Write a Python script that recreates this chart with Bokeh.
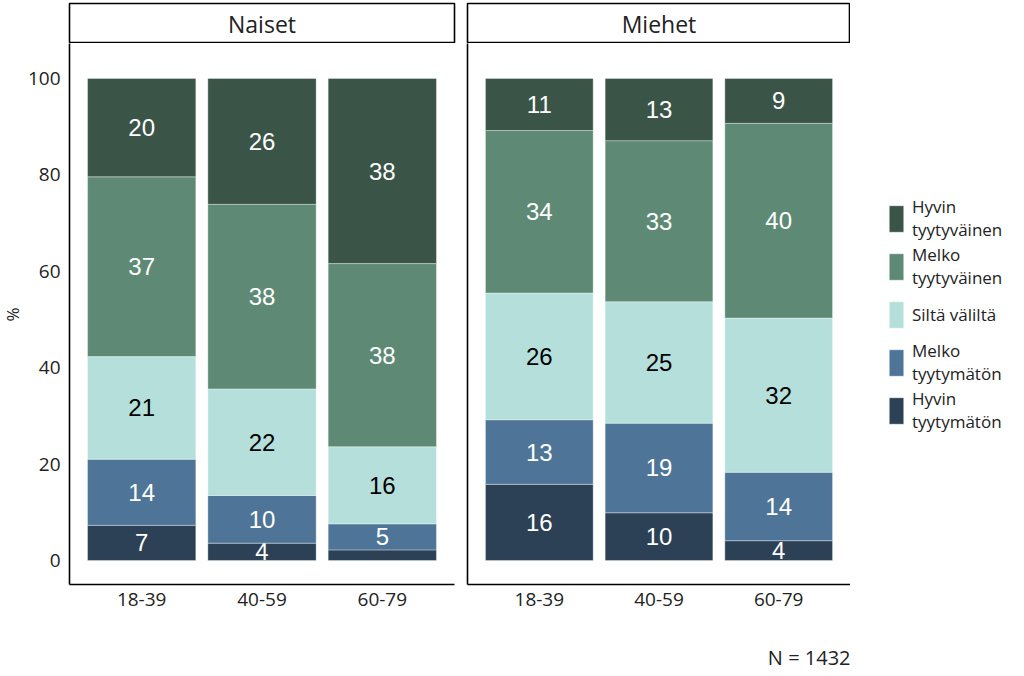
import math
from bokeh.plotting import figure
from bokeh.models import Range1d, FixedTicker, Legend, LegendItem, Title, ColumnDataSource
from bokeh.layouts import row, column
from bokeh.core.properties import value
from bokeh.embed import file_html
from bokeh.resources import INLINE

# ---------------- data ----------------
ages = ["18-39", "40-59", "60-79"]
groups = ["Naiset", "Miehet"]
categories = ["Hyvin tyytymätön", "Melko tyytymätön", "Siltä väliltä",
              "Melko tyytyväinen", "Hyvin tyytyväinen"]
legend_labels = ["Hyvin\ntyytymätön", "Melko\ntyytymätön", "Siltä väliltä",
                 "Melko\ntyytyväinen", "Hyvin\ntyytyväinen"]

naiset_hyvin_tyytymaton = [7.3, 3.6, 2.2]
naiset_melko_tyytymaton = [13.7, 9.9, 5.4]
naiset_silta_valilta = [21.3, 22.1, 16.0]
naiset_melko_tyytyvainen = [37.3, 38.3, 38.0]
naiset_hyvin_tyytyvainen = [20.4, 26.1, 38.4]

miehet_hyvin_tyytymaton = [15.8, 9.9, 4.1]
miehet_melko_tyytymaton = [13.4, 18.6, 14.2]
miehet_silta_valilta = [26.3, 25.2, 32.0]
miehet_melko_tyytyvainen = [33.7, 33.4, 40.4]
miehet_hyvin_tyytyvainen = [10.8, 12.9, 9.3]

caption = "N = 1432"
y_label = "%"
y_ticks = [0, 20, 40, 60, 80, 100]

# ---------------- style ----------------
colors = ["#2c4156", "#4e7597", "#b5dfdb", "#5e8a75", "#3a5447"]
label_colors = ["white", "white", "black", "white", "white"]
AX_FONT = "Open Sans"
TXT = "#222222"

naiset = [naiset_hyvin_tyytymaton, naiset_melko_tyytymaton, naiset_silta_valilta,
          naiset_melko_tyytyvainen, naiset_hyvin_tyytyvainen]
miehet = [miehet_hyvin_tyytymaton, miehet_melko_tyytymaton, miehet_silta_valilta,
          miehet_melko_tyytyvainen, miehet_hyvin_tyytyvainen]

FRAME_H = 541
STRIP_H = 40
STRIP_TOP = 3
BOTTOM = 92
TOTAL_H = STRIP_TOP + STRIP_H + FRAME_H + BOTTOM
YLAB_W = 24


def make_panel(series, frame_w, mbl, mbr, left_labels):
    p = figure(frame_width=frame_w, frame_height=FRAME_H,
               x_range=Range1d(0.4, 3.6), y_range=Range1d(-4.98, 107.26),
               output_backend="svg", toolbar_location=None,
               min_border_left=mbl, min_border_right=mbr,
               min_border_top=0, min_border_bottom=BOTTOM)
    p.grid.visible = False
    p.outline_line_color = None
    xs = [1, 2, 3]
    bottom = [0.0, 0.0, 0.0]
    for k, vals in enumerate(series):
        top = [b + v for b, v in zip(bottom, vals)]
        src = ColumnDataSource(dict(x=xs, bottom=bottom, top=top))
        p.vbar(x="x", width=0.9, bottom="bottom", top="top", source=src,
               fill_color=colors[k], line_color="white", line_alpha=0.35,
               line_width=1)
        keep = [i for i, v in enumerate(vals) if v >= 3]
        tsrc = ColumnDataSource(dict(
            x=[xs[i] for i in keep],
            mid=[(bottom[i] + top[i]) / 2 for i in keep],
            lab=[str(int(round(vals[i]))) for i in keep]))
        p.text(x="x", y="mid", text="lab", source=tsrc, text_align="center",
               text_baseline="middle", text_color=label_colors[k],
               text_font=value("Liberation Sans"), text_font_size="24px")
        bottom = top

    p.xaxis.ticker = FixedTicker(ticks=xs)
    p.xaxis.major_label_overrides = {x: a for x, a in zip(xs, ages)}
    for ax in p.axis:
        ax.axis_line_color = "black"
        ax.axis_line_width = 1.6
        ax.major_tick_line_color = None
        ax.minor_tick_line_color = None
        ax.major_tick_out = 0
        ax.major_tick_in = 0
        ax.major_label_text_font = AX_FONT
        ax.major_label_text_font_size = "19px"
        ax.major_label_text_color = TXT
    p.xaxis.major_label_standoff = 8
    if left_labels:
        p.yaxis.ticker = FixedTicker(ticks=y_ticks)
        p.yaxis.major_label_standoff = 9
    else:
        p.yaxis.ticker = FixedTicker(ticks=[])
        p.yaxis.major_label_standoff = 0
    return p


def make_strip(name, frame_w, mbl, mbr):
    s = figure(frame_width=frame_w, frame_height=STRIP_H,
               x_range=Range1d(0, 1), y_range=Range1d(0, 1),
               x_axis_location=None, y_axis_location=None,
               min_border_left=mbl, min_border_right=mbr,
               min_border_top=STRIP_TOP, min_border_bottom=0,
               toolbar_location=None, output_backend="svg")
    s.grid.visible = False
    s.outline_line_color = "black"
    s.outline_line_width = 1.6
    s.text(x=[0.5], y=[0.5], text=[name], text_align="center",
           text_baseline="middle", text_font=value(AX_FONT),
           text_font_size="23px", text_color=TXT)
    return s


def blank(w, h):
    f = figure(frame_width=w, frame_height=h,
               x_range=Range1d(0, w), y_range=Range1d(0, h),
               x_axis_location=None, y_axis_location=None,
               min_border_left=0, min_border_right=0,
               min_border_top=0, min_border_bottom=0,
               toolbar_location=None, output_backend="svg")
    f.grid.visible = False
    f.outline_line_color = None
    return f


# y-axis title column
ylab = blank(YLAB_W, TOTAL_H)
ylab.text(x=[YLAB_W / 2], y=[TOTAL_H - 314], text=[y_label], angle=math.pi / 2,
          text_align="center", text_baseline="middle", text_font=value(AX_FONT),
          text_font_size="17px", text_color=TXT)

pL = make_panel(naiset, 385, 69 - YLAB_W, 6, True)
pR = make_panel(miehet, 383, 7, 0, False)

pR.add_layout(Title(text=caption, align="right", text_font=AX_FONT,
                    text_font_size="20px", text_font_style="normal",
                    text_color=TXT, standoff=66), "below")

sL = make_strip(groups[0], 385, 69 - YLAB_W, 6)
sR = make_strip(groups[1], 383, 7, 0)

# legend panel (its own frame so nothing is clipped)
LEG_W = 174
lg = blank(LEG_W, TOTAL_H)
proxies = []
for k in range(len(categories)):
    proxies.append(lg.vbar(x=[LEG_W / 2], bottom=[0], top=[0], width=1,
                           fill_color=colors[k], line_color="white",
                           line_alpha=0.35))
legend = Legend(items=[LegendItem(label=legend_labels[k], renderers=[proxies[k]])
                       for k in reversed(range(len(categories)))],
                location=(37, TOTAL_H - 434), glyph_width=18, glyph_height=33,
                spacing=0, label_standoff=7, border_line_color=None,
                background_fill_alpha=0, margin=0, padding=0,
                label_text_font=AX_FONT, label_text_font_size="17px",
                label_text_color=TXT, label_height=48)
lg.add_layout(legend)

layout = row(ylab, column(sL, pL), column(sR, pR), lg)

with open("out.html", "w") as f:
    f.write(file_html(layout, INLINE))
